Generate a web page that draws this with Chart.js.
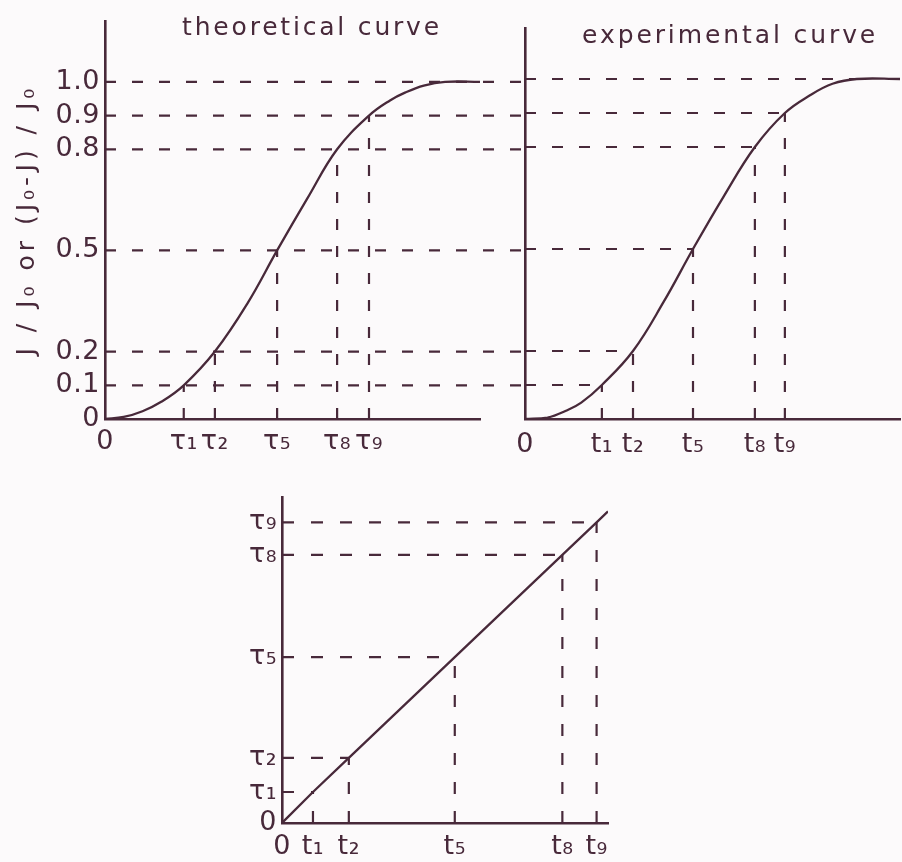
<!DOCTYPE html>
<html>
<head>
<meta charset="utf-8">
<title>Theoretical and experimental response curves</title>
<script src="https://cdn.jsdelivr.net/npm/chart.js@4/dist/chart.umd.min.js"></script>
<style>
  html, body { margin: 0; padding: 0; background: #fcfafb; }
  #figure { position: relative; width: 902px; height: 862px; overflow: hidden; }
  #figure canvas { position: absolute; left: 0; top: 0; }
</style>
</head>
<body>
<div id="figure">
  <canvas id="theory" width="902" height="862"></canvas>
  <canvas id="experiment" width="902" height="862"></canvas>
  <canvas id="mapping" width="902" height="862"></canvas>
</div>
<script>
// ---------- data ----------
// normalised levels marked on the response curves
const levels      = [0.1, 0.2, 0.5, 0.8, 0.9, 1.0];
const levelLabels = ['0.1', '0.2', '0.5', '0.8', '0.9', '1.0'];

// theoretical curve: J/J0 against time
const theoryTime  = [0, 0.5, 1.0, 1.5, 2.1, 2.93, 3.8, 4.59, 5.4, 6.19, 7.04, 7.6, 8.0, 8.5, 9.07, 10];
const theoryValue = [0, 0.006, 0.023, 0.051, 0.1, 0.2, 0.343, 0.5, 0.655, 0.8, 0.9, 0.945, 0.968, 0.989, 1.0, 1.0];
// times at which the theoretical curve reaches 0.1, 0.2, 0.5, 0.8, 0.9
const tauTimes  = [2.1, 2.93, 4.59, 6.19, 7.04];
const tauLabels = ['τ₁', 'τ₂', 'τ₅', 'τ₈', 'τ₉'];

// experimental curve
const expTime  = [0, 0.6, 1.11, 1.5, 2.05, 2.88, 3.7, 4.48, 5.3, 6.13, 6.93, 7.6, 8.2, 8.85, 10];
const expValue = [0, 0.004, 0.025, 0.048, 0.1, 0.2, 0.345, 0.5, 0.655, 0.8, 0.9, 0.952, 0.986, 1.0, 1.0];
// times at which the experimental curve reaches 0.1, 0.2, 0.5, 0.8, 0.9
const tTimes  = [2.05, 2.88, 4.48, 6.13, 6.93];
const tLabels = ['t₁', 't₂', 't₅', 't₈', 't₉'];

// tau plotted against t
const mapT       = [0.95, 2.05, 5.3, 8.6, 9.65];
const mapTau     = [1.0, 2.1, 5.35, 8.65, 9.7];
const mapLineT   = [0, 0.95, 2.05, 5.3, 8.6, 9.65, 10];
const mapLineTau = [0, 1.0, 2.1, 5.35, 8.65, 9.7, 10.05];

// ---------- styling ----------
const INK = '#48293a';
const TICK_FONT  = { family: 'DejaVu Sans', size: 27 };
const TITLE_FONT = '25px "DejaVu Sans"';
const GUIDE_DASH = [11, 16];
const GUIDE_REACH = 11.2;   // horizontal guides of the left panel run on into the right one

const zip = (xs, ys) => xs.map((x, i) => ({ x, y: ys[i] }));
const fixedTicks = (values) => (scale) => { scale.ticks = values.map(v => ({ value: v })); };
const labelFrom  = (labels) => (value, index) => labels[index];

function curve(points, tension) {
  return {
    data: points, showLine: true, borderColor: INK, borderWidth: 2.3,
    pointRadius: 0, fill: false, cubicInterpolationMode: 'default', tension: tension || 0
  };
}
function guide(points, dash, noClip) {
  const ds = {
    data: points, showLine: true, borderColor: INK, borderWidth: 2.2,
    borderDash: dash, pointRadius: 0, fill: false, tension: 0
  };
  if (noClip) ds.clip = false;
  return ds;
}

// axis text spacing: wide tracking for the axis title (drawn with the grid layer),
// a lighter one for tick labels (drawn after the datasets)
const tracking = {
  id: 'tracking',
  beforeDraw(chart, args, opts) { chart.ctx.letterSpacing = opts.title || '0px'; },
  beforeDatasetsDraw(chart, args, opts) { chart.ctx.letterSpacing = opts.ticks || '0px'; },
  afterDraw(chart) { chart.ctx.letterSpacing = '0px'; }
};

// panel caption written inside the top of the plot
const panelTitle = {
  id: 'panelTitle',
  afterDraw(chart, args, opts) {
    if (!opts.text) return;
    const { ctx, chartArea } = chart;
    ctx.save();
    ctx.font = TITLE_FONT;
    ctx.fillStyle = INK;
    ctx.letterSpacing = opts.spacing || '0px';
    ctx.textAlign = 'center';
    ctx.textBaseline = 'middle';
    ctx.fillText(opts.text, chartArea.left + opts.anchor * (chartArea.right - chartArea.left), opts.y);
    ctx.restore();
  }
};

function axis(min, max, values, labels, fit, padding, showLabels) {
  return {
    type: 'linear', min, max,
    grid: { display: false, drawTicks: false },
    border: { display: true, color: INK, width: 2.6 },
    afterBuildTicks: fixedTicks(values),
    afterFit: fit,
    ticks: {
      display: showLabels !== false, z: 1, autoSkip: false, maxRotation: 0, minRotation: 0,
      padding, color: INK, font: TICK_FONT, callback: labelFrom(labels)
    }
  };
}

function baseOptions(padding, scales, extra) {
  return {
    responsive: false, animation: false, events: [],
    layout: { padding },
    plugins: Object.assign({ legend: { display: false }, tooltip: { enabled: false } }, extra),
    scales
  };
}

// ---------- theoretical curve (top left) ----------
const theoryGuides = [];
levels.forEach(lv => theoryGuides.push(guide([{ x: 0, y: lv }, { x: GUIDE_REACH, y: lv }], GUIDE_DASH, true)));
tauTimes.forEach((t, i) => theoryGuides.push(guide([{ x: t, y: 0 }, { x: t, y: levels[i] }], GUIDE_DASH)));

const theoryY = axis(0, 1.18, [0, ...levels], ['0', ...levelLabels], s => { s.width = 105; }, 5);
theoryY.title = {
  display: true, text: 'J / J₀ or (J₀-J) / J₀', color: INK,
  font: { family: 'DejaVu Sans', size: 25 }, padding: { top: 12, bottom: 0 }
};

new Chart(document.getElementById('theory'), {
  type: 'scatter',
  data: { datasets: [curve(zip(theoryTime, theoryValue), 0.4), ...theoryGuides] },
  options: baseOptions(
    { left: 0, right: 422, top: 17.8, bottom: 403 },
    {
      x: axis(0, 10, [0, ...tauTimes], ['0', ...tauLabels], s => { s.height = 40; }, 7),
      y: theoryY
    },
    {
      tracking: { title: '4px', ticks: '0.5px' },
      panelTitle: { text: 'theoretical curve', anchor: 0.552, y: 28, spacing: '2.8px' }
    }
  ),
  plugins: [tracking, panelTitle]
});

// ---------- experimental curve (top right) ----------
const saturation = expTime[expValue.indexOf(1.0)];
const expGuides = [];
levels.forEach((lv, i) => {
  const reach = i < tTimes.length ? tTimes[i] : saturation;
  expGuides.push(guide([{ x: 0, y: lv }, { x: reach, y: lv }], GUIDE_DASH));
});
tTimes.forEach((t, i) => expGuides.push(guide([{ x: t, y: 0 }, { x: t, y: levels[i] }], GUIDE_DASH)));

new Chart(document.getElementById('experiment'), {
  type: 'scatter',
  data: { datasets: [curve(zip(expTime, expValue), 0.4), ...expGuides] },
  options: baseOptions(
    { left: 525, right: 2, top: 28, bottom: 403 },
    {
      x: axis(0, 10, [0, ...tTimes], ['0', ...tLabels], s => { s.height = 40; }, 10),
      y: axis(0, 1.15, [0], [''], s => { s.width = 0; }, 0, false)
    },
    {
      tracking: { ticks: '0.5px' },
      panelTitle: { text: 'experimental curve', anchor: 0.547, y: 36, spacing: '2.9px' }
    }
  ),
  plugins: [tracking, panelTitle]
});

// ---------- tau against t (bottom) ----------
const mapGuides = [];
mapT.forEach((t, i) => {
  mapGuides.push(guide([{ x: 0, y: mapTau[i] }, { x: t, y: mapTau[i] }], [12, 17]));
  mapGuides.push(guide([{ x: t, y: 0 }, { x: t, y: mapTau[i] }], [12, 17]));
});

new Chart(document.getElementById('mapping'), {
  type: 'scatter',
  data: { datasets: [curve(zip(mapLineT, mapLineTau)), ...mapGuides] },
  options: baseOptions(
    { left: 0, right: 294, top: 497.5, bottom: 1 },
    {
      x: axis(0, 10, [0, ...mapT], ['0', ...tLabels], s => { s.height = 38; }, 8),
      y: axis(0, 10.5, [0, ...mapTau], ['0', ...tauLabels], s => { s.width = 282; }, 5)
    },
    { tracking: { ticks: '0.5px' } }
  ),
  plugins: [tracking]
});
</script>
</body>
</html>
